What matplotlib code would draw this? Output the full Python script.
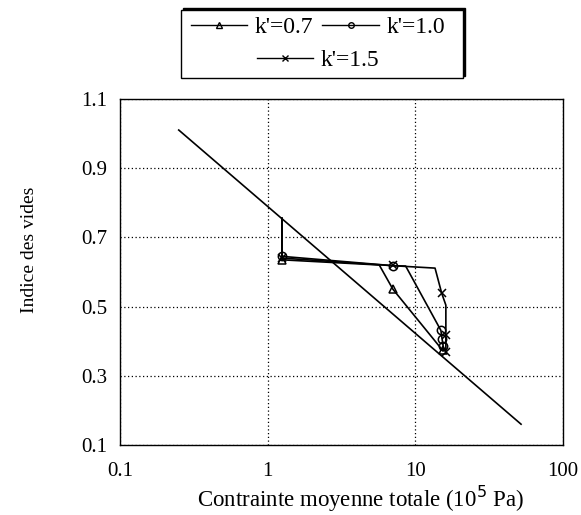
import matplotlib.pyplot as plt
from matplotlib.lines import Line2D
from matplotlib.patches import Rectangle

# ==== DATA ====
# critical state line
csl_x = [0.25, 52.0]
csl_y = [1.01, 0.16]

# drained loading paths (line vertices)
path07_x = [1.25, 1.25, 5.7, 7.05, 15.4]
path07_y = [0.755, 0.635, 0.620, 0.550, 0.372]
path10_x = [1.25, 1.25, 7.05, 8.6, 14.9, 15.2, 15.5]
path10_y = [0.755, 0.645, 0.618, 0.617, 0.431, 0.405, 0.380]
path15_x = [1.25, 1.25, 7.05, 13.6, 15.1, 16.1, 16.1, 16.1]
path15_y = [0.755, 0.640, 0.618, 0.611, 0.538, 0.504, 0.417, 0.365]

# measured points (markers)
pts07_x = [1.25, 7.05, 15.4]
pts07_y = [0.635, 0.550, 0.375]
pts10_x = [1.25, 7.05, 14.9, 15.2, 15.5]
pts10_y = [0.645, 0.618, 0.431, 0.405, 0.385]
pts15_x = [1.25, 7.05, 15.1, 16.1, 16.1]
pts15_y = [0.640, 0.620, 0.538, 0.417, 0.370]

labels = ["k'=0.7", "k'=1.0", "k'=1.5"]
markers = ["^", "o", "x"]

x_ticks = [0.1, 1, 10, 100]
x_ticklabels = ["0.1", "1", "10", "100"]
y_ticks = [0.1, 0.3, 0.5, 0.7, 0.9, 1.1]

# ==== STYLE ====
plt.rcParams['font.family'] = ['Liberation Serif', 'DejaVu Serif']
tick_fs = 15
lw = 1.2

fig = plt.figure(figsize=(5.81, 5.15), dpi=100)
ax = fig.add_axes([0.2065, 0.136, 0.7625, 0.672])

ax.plot(csl_x, csl_y, color="black", lw=lw)

paths = [(path07_x, path07_y), (path10_x, path10_y), (path15_x, path15_y)]
pts = [(pts07_x, pts07_y), (pts10_x, pts10_y), (pts15_x, pts15_y)]
for (px, py), (mx, my), m in zip(paths, pts, markers):
    ax.plot(px, py, color="black", lw=lw)
    ax.plot(mx, my, linestyle="none", marker=m, markersize=6,
            markerfacecolor="none", markeredgecolor="black", markeredgewidth=1.1)

ax.set_xscale("log")
ax.set_xlim(0.1, 100)
ax.set_ylim(0.1, 1.1)
ax.set_xticks(x_ticks)
ax.set_xticklabels(x_ticklabels)
ax.minorticks_off()
ax.set_yticks(y_ticks)
ax.set_yticklabels([f"{v:.1f}" for v in y_ticks])
ax.tick_params(length=0, labelsize=tick_fs)
ax.tick_params(axis="x", pad=12)
ax.tick_params(axis="y", pad=9)

ax.grid(True, color="black", linestyle=(0, (1, 2)), linewidth=0.9)
for s in ax.spines.values():
    s.set_linewidth(1.0)

ax.set_xlabel("Contrainte moyenne totale (10$^5$ Pa)", fontsize=16.5, labelpad=2)
ax.set_ylabel("Indice des vides", fontsize=14, labelpad=31)
# labels sit a bit off-centre in the original
ax.xaxis.label.set_x(0.542)
ax.yaxis.label.set_y(0.564)

# ==== LEGEND ====
handles = [Line2D([], [], color="black", lw=1.0, marker=m, markersize=4,
                  markerfacecolor="none", markeredgecolor="black")
           for m in markers]

# frame with shadow on top/right
shadow = Rectangle((0.315, 0.852), 0.486, 0.133, transform=fig.transFigure,
                   facecolor="black", edgecolor="black", zorder=1)
frame = Rectangle((0.311, 0.848), 0.486, 0.133, transform=fig.transFigure,
                  facecolor="white", edgecolor="black", lw=1.0, zorder=2)
fig.patches.extend([shadow, frame])

leg1 = fig.legend(handles[:2], labels[:2], ncol=2, loc="center",
                  bbox_to_anchor=(0.547, 0.947), frameon=False,
                  fontsize=17, handlelength=2.4, handletextpad=0.3,
                  columnspacing=0.4, borderpad=0)
leg2 = fig.legend(handles[2:], labels[2:], loc="center",
                  bbox_to_anchor=(0.547, 0.883), frameon=False,
                  fontsize=17, handlelength=2.4, handletextpad=0.3, borderpad=0)
leg1.set_zorder(3)
leg2.set_zorder(3)

fig.savefig("out.png", dpi=100)
